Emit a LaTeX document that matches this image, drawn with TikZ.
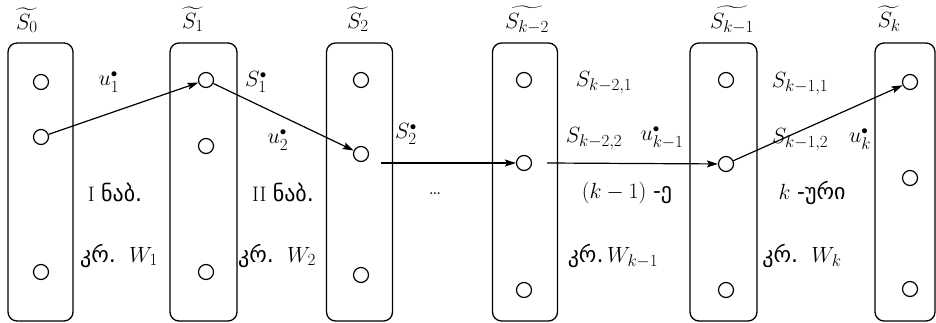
\RequirePackage{fix-cm}
\documentclass[tikz,border=0pt]{standalone}
\usepackage{amsmath}
\usepackage{fontspec}
\newfontfamily\geo{DejaVu Sans}
\DeclareMathSizes{22}{22}{17}{13}
\usetikzlibrary{arrows.meta}
\newcommand{\st}{^{\scriptscriptstyle\bullet}}
\newcommand{\gf}{\geo\fontsize{22}{26}\selectfont}
\newcommand{\gk}{{\gf კრ.}}
\begin{document}
\begin{tikzpicture}[x=1pt,y=-1pt,
  stagebox/.style={draw,line width=1.3pt,rounded corners=9pt,minimum width=65pt,minimum height=278pt,inner sep=0pt},
  state/.style={draw,circle,line width=1.2pt,minimum size=15pt,inner sep=0pt},
  arr/.style={line width=1.2pt,-{Stealth[length=11pt,width=7pt,inset=2pt]}},
  lbl/.style={inner sep=1pt,font=\fontsize{22}{26}\selectfont},
  gtxt/.style={inner sep=1pt,font=\fontsize{21}{25}\selectfont}]
\useasboundingbox (0,0) rectangle (936,323);
% boxes
\node[stagebox] (b0) at (40.5,182) {};
\node[stagebox,minimum width=67pt] (b1) at (203.5,182) {};
\node[stagebox,minimum width=66pt] (b2) at (359.5,182) {};
\node[stagebox] (b3) at (525,182) {};
\node[stagebox,minimum width=67pt] (b4) at (723.5,182) {};
\node[stagebox,minimum width=60pt] (b5) at (905,182) {};
% titles
\node[lbl] (t0) at (27,20) {$\widetilde{S_0}$};
\node[lbl] (t1) at (193,19) {$\widetilde{S_1}$};
\node[lbl] (t2) at (358,19) {$\widetilde{S_2}$};
\node[lbl] (t3) at (527,20) {$\widetilde{S_{k-2}}$};
\node[lbl] (t4) at (732,20) {$\widetilde{S_{k-1}}$};
\node[lbl] (t5) at (889,19) {$\widetilde{S_k}$};
% states
\node[state] (c01) at (41,82) {};
\node[state] (c02) at (41,137) {};
\node[state] (c03) at (41,272) {};
\node[state] (c11) at (206,80) {};
\node[state] (c12) at (206,146) {};
\node[state] (c13) at (206,272) {};
\node[state] (c21) at (361,80) {};
\node[state] (c22) at (361,154) {};
\node[state] (c23) at (361,275) {};
\node[state] (c31) at (524,80) {};
\node[state] (c32) at (524,163) {};
\node[state] (c33) at (524,290) {};
\node[state] (c41) at (726,80) {};
\node[state] (c42) at (726,164) {};
\node[state] (c43) at (726,290) {};
\node[state] (c51) at (910,82) {};
\node[state] (c52) at (910,178) {};
\node[state] (c53) at (910,289) {};
% arrows
\coordinate (p1) at (381,163);
\coordinate (p2) at (547,163);
\draw[arr] (c02) -- (c11);
\draw[arr] (c11) -- (c22);
\draw[arr] (p1) -- (c32);
\draw[arr] (p2) -- (c42);
\draw[arr] (c42) -- (c51);
% labels
\node[lbl] (l1) at (109,82) {$u_1\st$};
\node[lbl] (l2) at (256,82) {$S_1\st$};
\node[lbl] (l3) at (278,140) {$u_2\st$};
\node[lbl] (l4) at (406,134) {$S_2\st$};
\node[lbl] (l5) at (604,83) {$S_{k-2,1}$};
\node[lbl] (l6) at (594,139) {$S_{k-2,2}$};
\node[lbl] (l7) at (662,138) {$u_{k-1}\st$};
\node[lbl] (l8) at (800,84) {$S_{k-1,1}$};
\node[lbl] (l9) at (800,140) {$S_{k-1,2}$};
\node[lbl] (l10) at (860,139) {$u_k\st$};
\node[gtxt] (s1) at (115,192) {I {\gf ნაბ.}};
\node[gtxt] (s2) at (283,192) {II {\gf ნაბ.}};
\node[lbl] (dots) at (435,194) {\dots};
\node[lbl] (s3) at (627,193) {$(k-1)$ {\gf -ე}};
\node[lbl] (s4) at (812,193) {$k$ {\gf -ური}};
\node[lbl] (w1) at (119,256) {\gk\ \ $W_1$};
\node[lbl] (w2) at (277,256) {\gk\ \ $W_2$};
\node[lbl] (w3) at (613,256) {\gk\,$W_{k-1}$};
\node[lbl] (w4) at (802,256) {\gk\ \ $W_k$};
\end{tikzpicture}
\end{document}
